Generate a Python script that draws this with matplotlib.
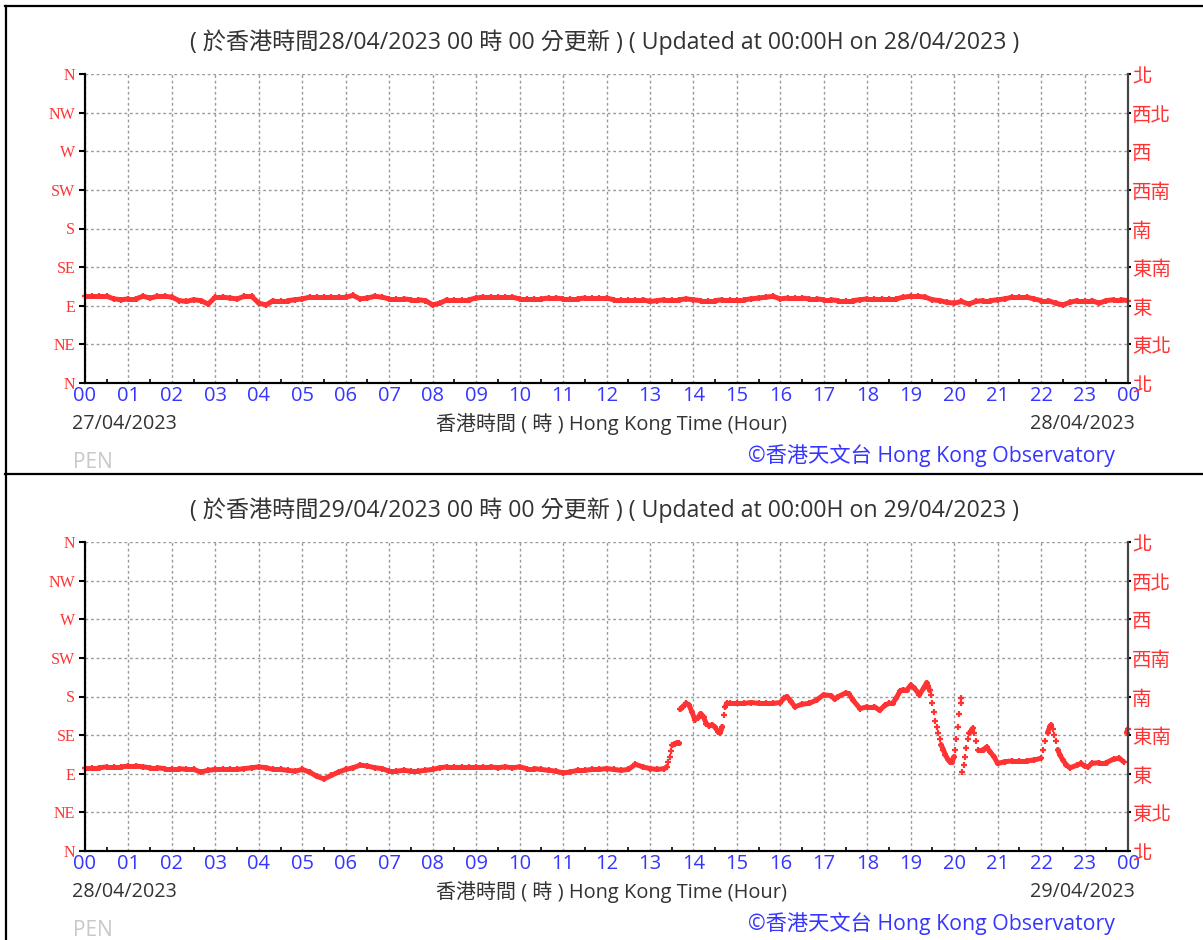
#!/usr/bin/env python
# -*- coding: utf-8 -*-

"""Wind direction plots (PEN) - two days, Hong Kong Observatory style"""

import numpy as np
import matplotlib
matplotlib.use('Agg')
from matplotlib import pyplot as plt
from matplotlib.lines import Line2D
from matplotlib.collections import LineCollection

plt.rcParams['font.family'] = ['Open Sans', 'Noto Sans CJK TC', 'DejaVu Sans']

# ---- data -------------------------------------------------------------------
left_labels = ['N', 'NE', 'E', 'SE', 'S', 'SW', 'W', 'NW', 'N']
right_labels = ['北', '東北', '東', '東南', '南', '西南', '西', '西北', '北']
dir_ticks = [0, 45, 90, 135, 180, 225, 270, 315, 360]
hour_labels = ['%02d' % (h % 24) for h in range(25)]

titles = ['( 於香港時間28/04/2023 00 時 00 分更新 ) ( Updated at 00:00H on 28/04/2023 )',
          '( 於香港時間29/04/2023 00 時 00 分更新 ) ( Updated at 00:00H on 29/04/2023 )']
start_dates = ['27/04/2023', '28/04/2023']
end_dates = ['28/04/2023', '29/04/2023']

# panel 1: direction (deg) every 10 minutes, 00:00 -> 24:00
dir_day1 = [101, 101, 101, 101, 98, 97,
            98, 98, 101, 99, 101, 101,
            100, 96, 95, 97, 96, 92,
            100, 100, 99, 98, 101, 101,
            93, 91, 96, 96, 96, 97,
            98, 100, 100, 100, 100, 100,
            100, 102, 98, 99, 101, 100,
            98, 98, 98, 97, 97, 96,
            91, 93, 97, 97, 97, 97,
            99, 100, 100, 100, 100, 100,
            98, 98, 98, 98, 99, 99,
            98, 98, 98, 99, 99, 99,
            99, 97, 97, 97, 97, 97,
            95, 96, 97, 97, 97, 98,
            97, 96, 96, 96, 97, 97,
            97, 97, 98, 99, 100, 101,
            98, 99, 99, 99, 98, 98,
            97, 97, 96, 96, 96, 97,
            98, 98, 98, 98, 98, 100,
            101, 101, 100, 97, 96, 94,
            93, 95, 92, 95, 96, 96,
            97, 98, 100, 100, 100, 98,
            96, 96, 93, 91, 94, 96,
            96, 96, 93, 96, 97, 97,
            96]

# panel 2: irregular sampling (denser where the direction swings)
time_day2 = ['00:00', '00:10', '00:20', '00:30', '00:40', '00:50',
             '01:00', '01:10', '01:20', '01:30', '01:40', '01:50',
             '02:00', '02:10', '02:20', '02:30', '02:40', '02:50',
             '03:00', '03:10', '03:20', '03:30', '03:40', '03:50',
             '04:00', '04:10', '04:20', '04:30', '04:40', '04:50',
             '05:00', '05:10', '05:20', '05:30', '05:40', '05:50',
             '06:00', '06:10', '06:20', '06:30', '06:40', '06:50',
             '07:00', '07:10', '07:20', '07:30', '07:40', '07:50',
             '08:00', '08:10', '08:20', '08:30', '08:40', '08:50',
             '09:00', '09:10', '09:20', '09:30', '09:40', '09:50',
             '10:00', '10:10', '10:20', '10:30', '10:40', '10:50',
             '11:00', '11:10', '11:20', '11:30', '11:40', '11:50',
             '12:00', '12:10', '12:20', '12:30', '12:40', '12:50',
             '13:00', '13:10', '13:20', '13:23', '13:25', '13:27',
             '13:29', '13:31', '13:34', '13:37', '13:40', '13:42',
             '13:45', '13:50', '13:54', '13:58', '14:02', '14:06',
             '14:10', '14:14', '14:18', '14:22', '14:26', '14:30',
             '14:34', '14:37', '14:40', '14:42', '14:44', '14:46',
             '14:50', '15:00', '15:10', '15:20', '15:30', '15:40',
             '15:50', '16:00', '16:05', '16:09', '16:15', '16:20',
             '16:30', '16:40', '16:50', '17:00', '17:10', '17:15',
             '17:20', '17:30', '17:35', '17:40', '17:50', '18:00',
             '18:10', '18:17', '18:25', '18:30', '18:35', '18:40',
             '18:45', '18:50', '18:55', '19:00', '19:05', '19:12',
             '19:18', '19:22', '19:24', '19:26', '19:28', '19:30',
             '19:32', '19:34', '19:36', '19:38', '19:40', '19:42',
             '19:45', '19:48', '19:51', '19:54', '19:57', '20:00',
             '20:01', '20:03', '20:05', '20:07', '20:09', '20:10',
             '20:11', '20:13', '20:15', '20:17', '20:19', '20:21',
             '20:24', '20:26', '20:28', '20:30', '20:33', '20:40',
             '20:45', '20:50', '20:55', '21:00', '21:10', '21:20',
             '21:30', '21:40', '21:50', '22:00', '22:03', '22:06',
             '22:09', '22:12', '22:14', '22:16', '22:18', '22:20',
             '22:23', '22:26', '22:30', '22:35', '22:40', '22:50',
             '22:55', '23:00', '23:05', '23:10', '23:20', '23:30',
             '23:40', '23:48', '23:54', '23:58', '24:00']
dir_day2 = [97, 97, 97, 98, 98, 98,
            99, 99, 98, 97, 97, 96,
            96, 96, 95, 95, 92, 94,
            95, 95, 95, 95, 96, 97,
            98, 97, 95, 95, 94, 93,
            95, 92, 87, 84, 88, 92,
            95, 97, 100, 99, 97, 96,
            93, 93, 94, 93, 93, 94,
            95, 97, 98, 98, 98, 98,
            98, 98, 98, 97, 98, 97,
            98, 96, 96, 95, 94, 93,
            91, 92, 94, 94, 95, 95,
            96, 95, 94, 95, 101, 98,
            96, 95, 96, 98, 104, 110,
            117, 123, 125, 126, 126, 165,
            168, 172, 170, 162, 153, 155,
            160, 156, 148, 146, 147, 144,
            139, 138, 145, 158, 168, 172,
            172, 172, 172, 173, 172, 172,
            172, 173, 178, 180, 174, 168,
            171, 172, 176, 182, 181, 177,
            180, 184, 183, 176, 166, 168,
            168, 164, 170, 172, 172, 178,
            186, 188, 188, 193, 190, 182,
            190, 196, 192, 187, 182, 172,
            162, 152, 145, 137, 130, 124,
            118, 112, 107, 104, 104, 110,
            118, 130, 145, 160, 172, 178,
            92, 100, 110, 120, 130, 137,
            141, 143, 138, 128, 118, 118,
            121, 115, 110, 102, 104, 105,
            105, 105, 106, 108, 118, 128,
            138, 145, 147, 142, 135, 128,
            118, 112, 106, 100, 97, 100,
            102, 99, 98, 102, 103, 103,
            107, 108, 104, 138, 142]

# ---- style ------------------------------------------------------------------
W, H = 1203, 940
RED = '#ff3333'
BLUE = '#3535ff'
GREY_TXT = '#333333'
CJK = ['Open Sans', 'Noto Sans CJK TC', 'DejaVu Sans']


def fx(x):
    return x / W


def fy(y):
    return 1 - y / H


def to_hours(t):
    hh, mm = t.split(':')
    return int(hh) + int(mm) / 60.0


def draw_series(ax, hrs, dirs):
    """Line where the change is gentle, only '+' markers where it jumps."""
    hrs = np.asarray(hrs, dtype=float)
    dirs = np.asarray(dirs, dtype=float)
    slope = np.abs(np.diff(dirs)) / (np.diff(hrs) * 60)
    segs = [[(hrs[i], dirs[i]), (hrs[i + 1], dirs[i + 1])]
            for i in range(len(hrs) - 1) if slope[i] <= 2.5]
    ax.add_collection(LineCollection(segs, colors=RED, linewidths=3.6,
                                     capstyle='round', zorder=3))
    ax.plot(hrs, dirs, ls='none', marker='+', ms=5, mew=1.6, color=RED,
            clip_on=False, zorder=4)


def panel(fig, dy, title, d0, d1, hrs, dirs):
    ax = fig.add_axes([fx(85), fy(383 + dy), fx(1128 - 85), (383 - 74) / H])
    ax.set_xlim(0, 24)
    ax.set_ylim(0, 360)

    ax.set_xticks(range(25))
    ax.set_xticklabels(hour_labels, color=BLUE, fontsize=14.5)
    ax.set_xticks(np.arange(0.5, 24, 1), minor=True)
    ax.tick_params(axis='x', which='major', length=0, pad=2.5)
    ax.tick_params(axis='x', which='minor', direction='in', length=3,
                   width=1.2, color='black')

    ax.set_yticks(dir_ticks)
    ax.set_yticklabels(left_labels, color=RED, fontsize=11.5,
                       family='Liberation Serif')
    ax.tick_params(axis='y', which='major', direction='out', length=4.5,
                   width=1.5, pad=2.5, color='black')

    ax2 = ax.twinx()
    ax2.set_ylim(0, 360)
    ax2.set_yticks(dir_ticks)
    ax2.set_yticklabels(right_labels, color=RED, fontsize=14,
                        family=['Noto Sans CJK TC', 'DejaVu Sans'])
    ax2.tick_params(axis='y', direction='out', length=2.5, width=1.5, pad=0.5)

    for a in (ax, ax2):
        a.spines['top'].set_visible(False)
        a.spines['left'].set_linewidth(1.5)
        a.spines['bottom'].set_linewidth(1.5)
        a.spines['right'].set_linewidth(1.5)
        a.spines['right'].set_color('#444444')

    ax.grid(True, color='#9a9a9a', linestyle=(0, (2, 2)), linewidth=1)
    ax.set_axisbelow(True)

    draw_series(ax, hrs, dirs)

    fig.text(fx(605), fy(42 + dy), title, ha='center', va='center',
             fontsize=16.7, color=GREY_TXT, family=CJK)
    fig.text(fx(72), fy(424 + dy), d0, ha='left', va='center',
             fontsize=14.2, color=GREY_TXT)
    fig.text(fx(1135), fy(424 + dy), d1, ha='right', va='center',
             fontsize=14.2, color=GREY_TXT)
    fig.text(fx(612), fy(424 + dy), '香港時間 ( 時 ) Hong Kong Time (Hour)',
             ha='center', va='center', fontsize=14.4, color=GREY_TXT, family=CJK)
    fig.text(fx(73), fy(462 + dy), 'PEN', ha='left', va='center',
             fontsize=15, color='#c8c8c8')
    fig.text(fx(1115), fy(456 + dy), '©香港天文台 Hong Kong Observatory',
             ha='right', va='center', fontsize=15.3, color=BLUE, family=CJK)
    return ax


fig = plt.figure(figsize=(W / 100, H / 100), dpi=100, facecolor='white')

hrs1 = np.arange(len(dir_day1)) / 6.0
hrs2 = [to_hours(t) for t in time_day2]
panel(fig, 0, titles[0], start_dates[0], end_dates[0], hrs1, dir_day1)
panel(fig, 468, titles[1], start_dates[1], end_dates[1], hrs2, dir_day2)

# outer frame lines
for (x0, y0, x1, y1) in [(5, 6, 1203, 6), (6, 6, 6, 940), (5, 474, 1203, 474)]:
    fig.add_artist(Line2D([fx(x0), fx(x1)], [fy(y0), fy(y1)],
                          transform=fig.transFigure, color='black', lw=1.6))

plt.savefig('out.png', dpi=100, facecolor='white')
